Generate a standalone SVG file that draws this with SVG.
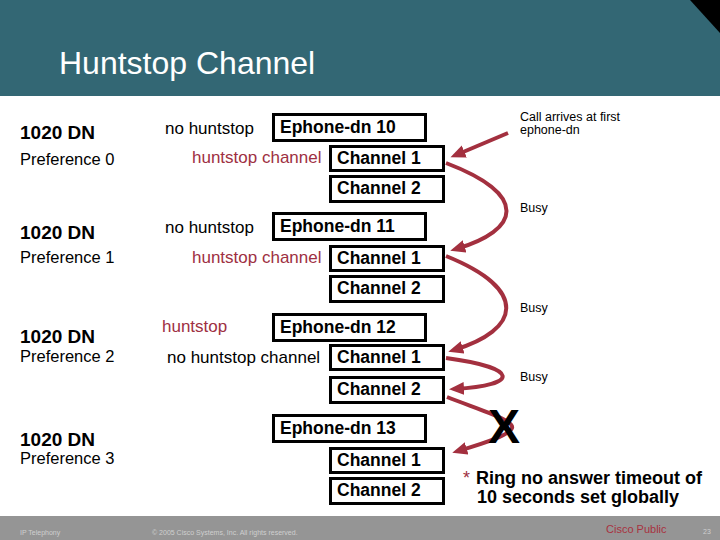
<svg xmlns="http://www.w3.org/2000/svg" width="720" height="540" viewBox="0 0 720 540">
<style>
text{font-family:"Liberation Sans",Arial,sans-serif}
.box{fill:#fff;stroke:#000;stroke-width:3}
.bt{font-size:17.5px;font-weight:bold;fill:#000}
.dn{font-size:19px;font-weight:bold;fill:#000}
.pref{font-size:16.5px;fill:#000}
.lbl{font-size:17px;fill:#000}
.red{fill:#9e3042}
.small{font-size:12.5px;fill:#000}
.conn{fill:none;stroke:#a3303f;stroke-width:4}
.foot{font-size:7px;fill:#cfcfcf}
</style>
<defs>
<marker id="ah" markerUnits="userSpaceOnUse" markerWidth="16" markerHeight="14" refX="9" refY="6.5" orient="auto">
<path d="M0,0 L15,6.5 L0,13 z" fill="#a3303f"/>
</marker>
</defs>
<rect x="0" y="0" width="720" height="96" fill="#336774"/>
<polygon points="690,0 720,0 720,33" fill="#000"/>
<text x="59" y="74" font-size="32" fill="#fff">Huntstop Channel</text>

<g id="group0">
<text class="dn" x="20" y="139">1020 DN</text>
<text class="pref" x="20" y="165">Preference 0</text>
<text class="lbl" x="165" y="134">no huntstop</text>
<text class="lbl red" x="192" y="163">huntstop channel</text>
</g>
<g id="group1">
<text class="dn" x="20" y="239">1020 DN</text>
<text class="pref" x="20" y="263">Preference 1</text>
<text class="lbl" x="165" y="233">no huntstop</text>
<text class="lbl red" x="192" y="263">huntstop channel</text>
</g>
<g id="group2">
<text class="dn" x="20" y="343">1020 DN</text>
<text class="pref" x="20" y="362">Preference 2</text>
<text class="lbl red" x="162" y="332">huntstop</text>
<text class="lbl" x="167" y="363">no huntstop channel</text>
</g>
<g id="group3">
<text class="dn" x="20" y="446">1020 DN</text>
<text class="pref" x="20" y="464">Preference 3</text>
</g>

<g id="ephone10">
<rect class="box" x="273.5" y="114.5" width="152" height="26"/>
<text class="bt" x="280" y="133">Ephone-dn 10</text>
</g>
<g id="ephone10-ch1">
<rect class="box" x="330.5" y="146.5" width="113" height="24"/>
<text class="bt" x="337" y="164">Channel 1</text>
</g>
<g id="ephone10-ch2">
<rect class="box" x="330.5" y="176.5" width="113" height="25"/>
<text class="bt" x="337" y="194">Channel 2</text>
</g>

<g id="ephone11">
<rect class="box" x="273.5" y="213.5" width="152" height="26"/>
<text class="bt" x="280" y="232">Ephone-dn 11</text>
</g>
<g id="ephone11-ch1">
<rect class="box" x="330.5" y="246.5" width="113" height="24"/>
<text class="bt" x="337" y="264">Channel 1</text>
</g>
<g id="ephone11-ch2">
<rect class="box" x="330.5" y="276.5" width="113" height="25"/>
<text class="bt" x="337" y="294">Channel 2</text>
</g>

<g id="ephone12">
<rect class="box" x="273.5" y="314.5" width="152" height="26"/>
<text class="bt" x="280" y="333">Ephone-dn 12</text>
</g>
<g id="ephone12-ch1">
<rect class="box" x="330.5" y="345.5" width="113" height="24"/>
<text class="bt" x="337" y="363">Channel 1</text>
</g>
<g id="ephone12-ch2">
<rect class="box" x="330.5" y="377.5" width="113" height="25"/>
<text class="bt" x="337" y="395">Channel 2</text>
</g>

<g id="ephone13">
<rect class="box" x="273.5" y="415.5" width="152" height="26"/>
<text class="bt" x="280" y="434">Ephone-dn 13</text>
</g>
<g id="ephone13-ch1">
<rect class="box" x="330.5" y="448.5" width="113" height="24"/>
<text class="bt" x="337" y="466">Channel 1</text>
</g>
<g id="ephone13-ch2">
<rect class="box" x="330.5" y="478.5" width="113" height="25"/>
<text class="bt" x="337" y="496">Channel 2</text>
</g>

<g id="connectors">
<path class="conn" d="M508,133 L456,155" marker-end="url(#ah)"/>
<path class="conn" d="M446,163 C530,195 520,230 456,249" marker-end="url(#ah)"/>
<path class="conn" d="M446,256 C530,290 520,330 454,350" marker-end="url(#ah)"/>
<path class="conn" d="M446,358 C520,368 520,385 455,389" marker-end="url(#ah)"/>
<path class="conn" d="M447,397 C480,410 515,420 512,428 C510,435 485,443 458,451" marker-end="url(#ah)"/>
</g>

<g id="annotations">
<text class="small" x="520" y="121">Call arrives at first</text>
<text class="small" x="520" y="134">ephone-dn</text>
<text class="small" x="520" y="212">Busy</text>
<text class="small" x="520" y="312">Busy</text>
<text class="small" x="520" y="381">Busy</text>
<text x="504" y="443" font-size="48" font-weight="bold" text-anchor="middle" fill="#000">X</text>
<text x="463" y="484" font-size="18" fill="#9e3042">*</text>
<text x="476" y="484" font-size="18" font-weight="bold" fill="#000">Ring no answer timeout of</text>
<text x="477" y="503" font-size="18" font-weight="bold" fill="#000">10 seconds set globally</text>
</g>

<rect x="0" y="516" width="720" height="24" fill="#959595"/>
<text class="foot" x="20" y="535">IP Telephony</text>
<text class="foot" x="152" y="535">© 2005 Cisco Systems, Inc. All rights reserved.</text>
<text x="606" y="533" font-size="11" fill="#a8323f">Cisco Public</text>
<text class="foot" x="703" y="534">23</text>
</svg>
